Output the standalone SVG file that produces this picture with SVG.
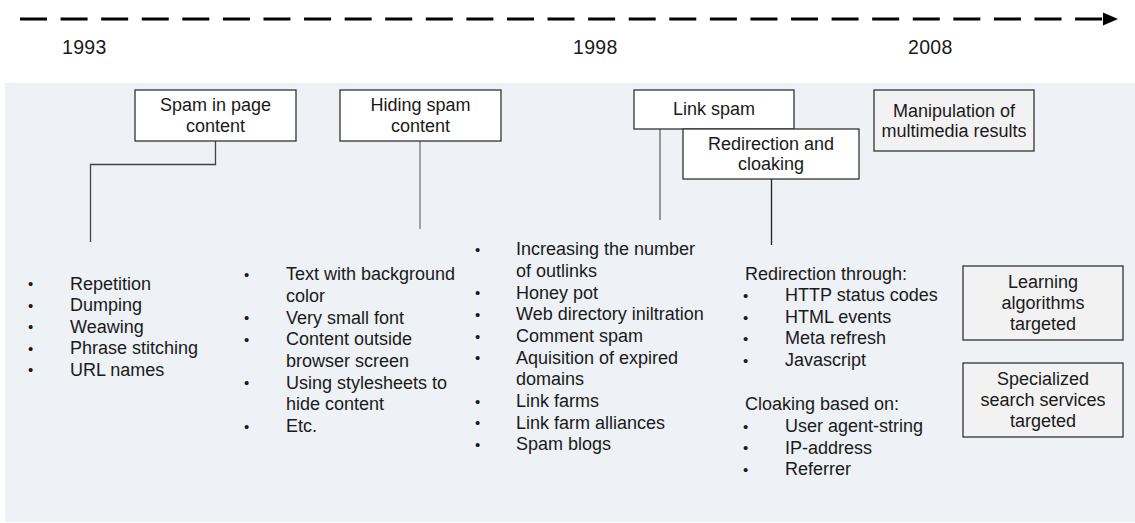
<svg xmlns="http://www.w3.org/2000/svg" width="1135" height="523" viewBox="0 0 1135 523">
<style>
text{font-family:"Liberation Sans",Arial,sans-serif;font-size:18px;fill:#1a1a1a}
.yr{font-size:19.5px;letter-spacing:0.3px}
.c{text-anchor:middle}
.b{font-size:15px}
.bw{fill:#ffffff;stroke:#333333;stroke-width:1.3}
.bg{fill:#f2f2f2;stroke:#333333;stroke-width:1.3}
.ln{fill:none;stroke-width:1.3}
</style>
<rect x="0" y="0" width="1135" height="523" fill="#ffffff"/>
<rect x="5" y="83" width="1130" height="439" fill="#eef1f5"/>
<g id="timeline">
<line x1="20" y1="19" x2="1103" y2="19" stroke="#000" stroke-width="3" stroke-dasharray="27 13.58"/>
<polygon points="1103,12.5 1118,19 1103,25.5" fill="#000"/>
<text class="yr" x="62" y="54">1993</text>
<text class="yr" x="573" y="54">1998</text>
<text class="yr" x="908" y="54">2008</text>
</g>
<g id="connectors">
<polyline class="ln" stroke="#444" points="215.5,141 215.5,164.5 90.5,164.5 90.5,242"/>
<line class="ln" stroke="#777" x1="420" y1="141" x2="420" y2="229"/>
<line class="ln" stroke="#666" x1="660" y1="129" x2="660" y2="220"/>
<line class="ln" stroke="#222" x1="771.5" y1="179" x2="771.5" y2="245"/>
</g>
<g id="node-spam-in-page">
<rect class="bw" x="135" y="90" width="161" height="51"/>
<text class="c" x="215.5" y="111">Spam in page</text>
<text class="c" x="215.5" y="131.5">content</text>
</g>
<g id="node-hiding-spam">
<rect class="bw" x="340" y="90" width="161" height="51"/>
<text class="c" x="420.5" y="111">Hiding spam</text>
<text class="c" x="420.5" y="131.5">content</text>
</g>
<g id="node-link-spam">
<rect class="bw" x="634" y="90" width="160" height="39"/>
<text class="c" x="714" y="114.5">Link spam</text>
</g>
<g id="node-redirection">
<rect class="bw" x="683" y="129" width="176" height="50"/>
<text class="c" x="771" y="149.5">Redirection and</text>
<text class="c" x="771" y="170">cloaking</text>
</g>
<g id="node-multimedia">
<rect class="bg" x="874" y="90" width="160" height="61"/>
<text class="c" x="954" y="116.5">Manipulation of</text>
<text class="c" x="954" y="136.5">multimedia results</text>
</g>
<g id="node-learning">
<rect class="bg" x="963" y="266" width="160" height="74"/>
<text class="c" x="1043" y="288">Learning</text>
<text class="c" x="1043" y="309">algorithms</text>
<text class="c" x="1043" y="330">targeted</text>
</g>
<g id="node-specialized">
<rect class="bg" x="963" y="363" width="160" height="74"/>
<text class="c" x="1043" y="385">Specialized</text>
<text class="c" x="1043" y="406">search services</text>
<text class="c" x="1043" y="427">targeted</text>
</g>
<g id="list-content">
<text class="b" x="28" y="289">•</text><text x="70" y="289.5">Repetition</text>
<text class="b" x="28" y="311">•</text><text x="70" y="311">Dumping</text>
<text class="b" x="28" y="332">•</text><text x="70" y="332.5">Weawing</text>
<text class="b" x="28" y="354">•</text><text x="70" y="354">Phrase stitching</text>
<text class="b" x="28" y="375">•</text><text x="70" y="375.5">URL names</text>
</g>
<g id="list-hiding">
<text class="b" x="244" y="280">•</text><text x="286" y="280">Text with background</text>
<text x="286" y="301.5">color</text>
<text class="b" x="244" y="323">•</text><text x="286" y="323.5">Very small font</text>
<text class="b" x="244" y="345">•</text><text x="286" y="345">Content outside</text>
<text x="286" y="366.5">browser screen</text>
<text class="b" x="244" y="388">•</text><text x="286" y="388.5">Using stylesheets to</text>
<text x="286" y="410">hide content</text>
<text class="b" x="244" y="432">•</text><text x="286" y="432">Etc.</text>
</g>
<g id="list-link">
<text class="b" x="475" y="255">•</text><text x="516" y="255">Increasing the number</text>
<text x="516" y="277">of outlinks</text>
<text class="b" x="475" y="298">•</text><text x="516" y="298.5">Honey pot</text>
<text class="b" x="475" y="320">•</text><text x="516" y="320">Web directory iniltration</text>
<text class="b" x="475" y="342">•</text><text x="516" y="342">Comment spam</text>
<text class="b" x="475" y="363">•</text><text x="516" y="363.5">Aquisition of expired</text>
<text x="516" y="385">domains</text>
<text class="b" x="475" y="407">•</text><text x="516" y="407">Link farms</text>
<text class="b" x="475" y="428">•</text><text x="516" y="428.5">Link farm alliances</text>
<text class="b" x="475" y="450">•</text><text x="516" y="450">Spam blogs</text>
</g>
<g id="list-redirection">
<text x="745" y="279.5">Redirection through:</text>
<text class="b" x="743" y="301">•</text><text x="785" y="301">HTTP status codes</text>
<text class="b" x="743" y="323">•</text><text x="785" y="322.5">HTML events</text>
<text class="b" x="743" y="344">•</text><text x="785" y="344">Meta refresh</text>
<text class="b" x="743" y="366">•</text><text x="785" y="366">Javascript</text>
<text x="745" y="410">Cloaking based on:</text>
<text class="b" x="743" y="432">•</text><text x="785" y="432">User agent-string</text>
<text class="b" x="743" y="453">•</text><text x="785" y="453.5">IP-address</text>
<text class="b" x="743" y="475">•</text><text x="785" y="475">Referrer</text>
</g>
</svg>
